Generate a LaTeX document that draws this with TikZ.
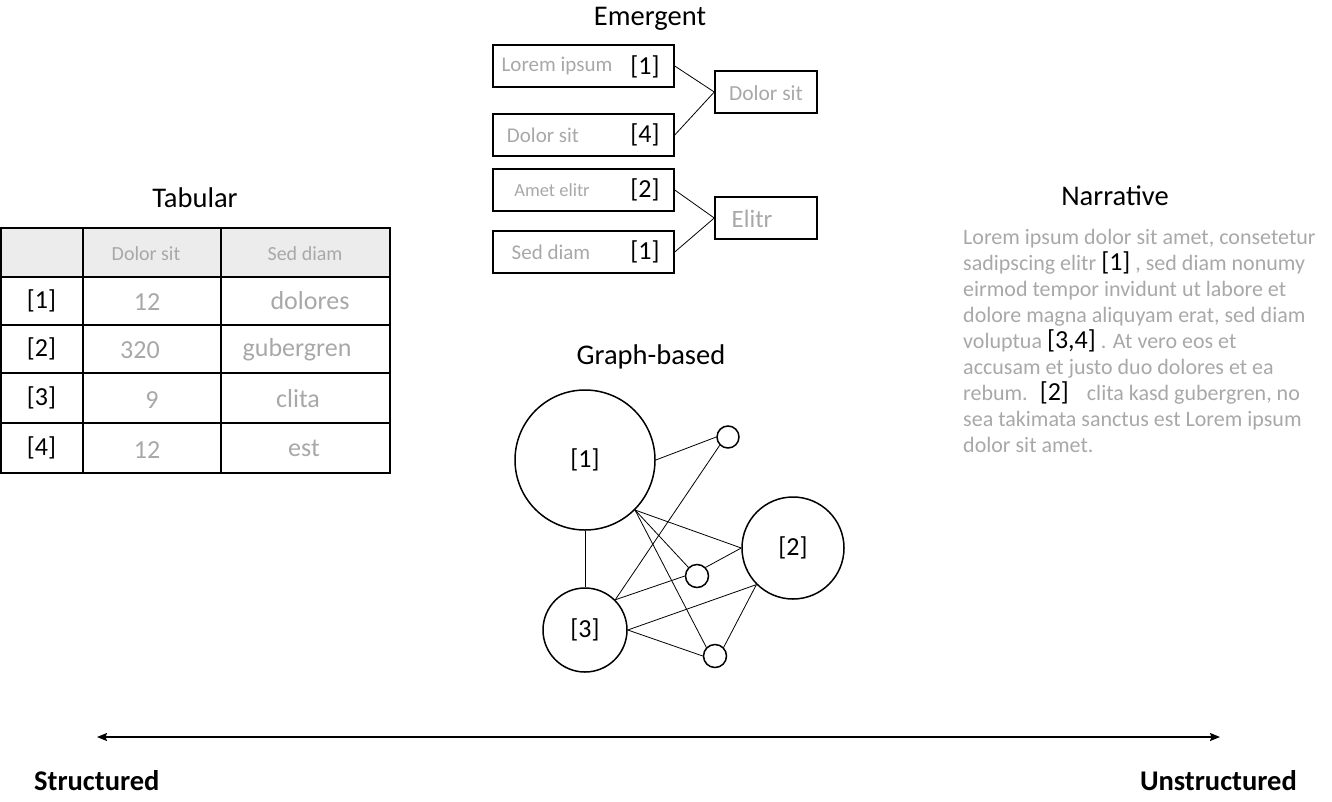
\documentclass[tikz,border=0pt]{standalone}
\usepackage{fontspec}
\setmainfont{Carlito}
\usetikzlibrary{arrows.meta}
\definecolor{blurgray}{RGB}{168,168,168}
\definecolor{headgray}{RGB}{236,236,236}
\begin{document}
\begin{tikzpicture}[x=1pt,y=-1pt,
  title/.style={font=\fontsize{28.5}{31}\selectfont, anchor=base, inner sep=0},
  ref/.style={font=\fontsize{26}{28}\selectfont, inner sep=0},
  blur/.style={text=blurgray, font=\fontsize{21}{24}\selectfont, inner sep=0},
  blurbig/.style={text=blurgray, font=\fontsize{26}{28}\selectfont, inner sep=0},
  narr/.style={text=blurgray, font=\fontsize{22}{26}\selectfont, inner sep=0, anchor=base west},
  ebox/.style={draw, line width=1.5pt, minimum width=181pt, minimum height=42pt, inner sep=0},
  rbox/.style={draw, line width=1.5pt, minimum width=102pt, minimum height=42pt, inner sep=0},
  link/.style={line width=0.8pt},
  gnode/.style={circle, draw, line width=1.5pt, inner sep=0, font=\fontsize{26}{28}\selectfont},
  tline/.style={line width=1.5pt},
  axis/.style={line width=1.8pt, {Stealth[length=10pt,width=8pt,inset=1.5pt]}-{Stealth[length=10pt,width=8pt,inset=1.5pt]}},
  endlabel/.style={font=\bfseries\fontsize{28.5}{31}\selectfont, inner sep=0}
]
\useasboundingbox (0,0) rectangle (1332,801);

% ---------------- Emergent ----------------
\node[title] (temerg) at (650,25) {Emergent};
\node[ebox] (e1) at (583.5,66) {};
\node[ebox] (e2) at (583.5,135) {};
\node[ebox] (e3) at (583.5,190) {};
\node[ebox] (e4) at (583.5,252) {};
\node[rbox] (d1) at (766,92) {};
\node[rbox] (d2) at (766,218) {};
\node[blur] (e1t) at (557,66) {Lorem ipsum};
\node[blur] (e2t) at (543,135) {Dolor sit};
\node[blur, font=\fontsize{18.5}{22}\selectfont] (e3t) at (552,190) {Amet elitr};
\node[blur] (e4t) at (551,252) {Sed diam};
\node[ref] (e1r) at (645,67) {[1]};
\node[ref] (e2r) at (645,135) {[4]};
\node[ref] (e3r) at (645,190) {[2]};
\node[ref] (e4r) at (645,252) {[1]};
\node[blur, font=\fontsize{21.5}{24}\selectfont] (d1t) at (766,93) {Dolor sit};
\node[blur, font=\fontsize{25}{28}\selectfont] (d2t) at (752,219) {Elitr};
\draw[link] (e1.east) -- (d1.west);
\draw[link] (e2.east) -- (d1.west);
\draw[link] (e3.east) -- (d2.west);
\draw[link] (e4.east) -- (d2.west);

% ---------------- Tabular ----------------
\node[title] (ttab) at (195,207) {Tabular};
\fill[headgray] (1,228) rectangle (390,277);
\draw[tline] (1,228) rectangle (390,473);
\draw[tline] (1,277) -- (390,277);
\draw[tline] (1,325) -- (390,325);
\draw[tline] (1,373) -- (390,373);
\draw[tline] (1,423) -- (390,423);
\draw[tline] (83,228) -- (83,473);
\draw[tline] (221,228) -- (221,473);
\node[blur, font=\fontsize{20}{22}\selectfont] (h1) at (146,254) {Dolor sit};
\node[blur, font=\fontsize{20}{22}\selectfont] (h2) at (305,254) {Sed diam};
\node[ref] (r1) at (41.5,301) {[1]};
\node[ref] (r2) at (41.5,349) {[2]};
\node[ref] (r3) at (41.5,398) {[3]};
\node[ref] (r4) at (41.5,448) {[4]};
\node[blurbig] (v11) at (147,302) {12};
\node[blurbig] (v12) at (310,301) {dolores};
\node[blurbig] (v21) at (140,350) {320};
\node[blurbig] (v22) at (297,350) {gubergren};
\node[blurbig] (v31) at (152,400) {9};
\node[blurbig] (v32) at (298,399) {clita};
\node[blurbig] (v41) at (147,450) {12};
\node[blurbig] (v42) at (304,448) {est};

% ---------------- Narrative ----------------
\node[title] (tnarr) at (1115,205) {Narrative};
\node[narr] (n1) at (963,244) {Lorem ipsum dolor sit amet, consetetur};
\node[narr] (n2) at (963,270) {sadipscing elitr {\color{black}\fontsize{26}{26}\selectfont[1]} , sed diam nonumy};
\node[narr] (n3) at (963,296) {eirmod tempor invidunt ut labore et};
\node[narr] (n4) at (963,322) {dolore magna aliquyam erat, sed diam};
\node[narr] (n5) at (963,348) {voluptua {\color{black}\fontsize{26}{26}\selectfont[3,4]} . At vero eos et};
\node[narr] (n6) at (963,374) {accusam et justo duo dolores et ea};
\node[narr] (n7) at (963,400) {rebum.\hspace{12pt}{\color{black}\fontsize{26}{26}\selectfont[2]}\hspace{18pt}clita kasd gubergren, no};
\node[narr] (n8) at (963,426) {sea takimata sanctus est Lorem ipsum};
\node[narr] (n9) at (963,452) {dolor sit amet.};

% ---------------- Graph-based ----------------
\node[title] (tgraph) at (651,364) {Graph-based};
\node[gnode, minimum size=140pt] (g1) at (585,460) {[1]};
\node[gnode, minimum size=102pt] (g2) at (793,548) {[2]};
\node[gnode, minimum size=84pt] (g3) at (585,630) {[3]};
\node[gnode, minimum size=22pt] (sa) at (728,437) {};
\node[gnode, minimum size=23pt] (sb) at (697,576) {};
\node[gnode, minimum size=23pt] (sc) at (715,656) {};
\draw[link] (g1.east) -- (sa.west);
\draw[link] (g1.south) -- (g3.north);
\draw[link] (g1.south east) -- (g2.west);
\draw[link] (g1.south east) -- (sb.north west);
\draw[link] (g1.south east) -- (sc.north west);
\draw[link] (g3.north east) -- (sa.south west);
\draw[link] (g3.north east) -- (sb.west);
\draw[link] (g3.east) -- (g2.south west);
\draw[link] (g3.east) -- (sc.west);
\draw[link] (sb.north east) -- (g2.west);
\draw[link] (sc.north east) -- (g2.south west);

% ---------------- Axis ----------------
\coordinate (aleft) at (97,737);
\coordinate (aright) at (1220,737);
\draw[axis] (aleft) -- (aright);
\node[endlabel, anchor=base west] (lstruct) at (34,790) {Structured};
\node[endlabel, anchor=base east] (lunstruct) at (1297,790) {Unstructured};
\end{tikzpicture}
\end{document}
